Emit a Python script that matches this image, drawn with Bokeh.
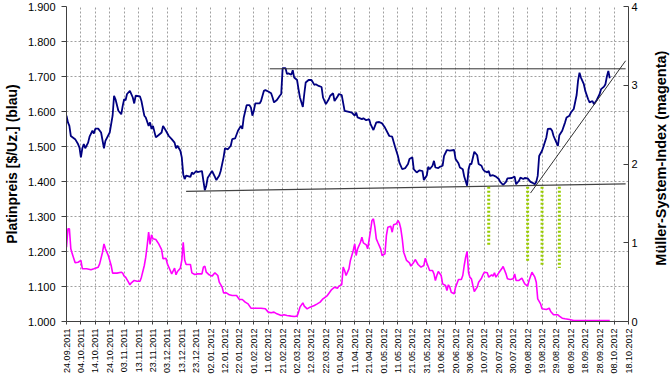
import math
import pandas as pd
from bokeh.plotting import figure
from bokeh.layouts import row
from bokeh.models import Range1d, LinearAxis, FixedTicker, DatetimeTickFormatter, ColumnDataSource, Label
from bokeh.embed import file_html
from bokeh.resources import INLINE

# ---------------- data ----------------
x_tick_labels = ["24.09.2011", "04.10.2011", "14.10.2011", "24.10.2011", "03.11.2011", "13.11.2011",
                 "23.11.2011", "03.12.2011", "13.12.2011", "23.12.2011", "02.01.2012", "12.01.2012",
                 "22.01.2012", "01.02.2012", "11.02.2012", "21.02.2012", "02.03.2012", "12.03.2012",
                 "22.03.2012", "01.04.2012", "11.04.2012", "21.04.2012", "01.05.2012", "11.05.2012",
                 "21.05.2012", "31.05.2012", "10.06.2012", "20.06.2012", "30.06.2012", "10.07.2012",
                 "20.07.2012", "30.07.2012", "09.08.2012", "19.08.2012", "29.08.2012", "08.09.2012",
                 "18.09.2012", "28.09.2012", "08.10.2012", "18.10.2012"]
price_ticks = [1000, 1100, 1200, 1300, 1400, 1500, 1600, 1700, 1800, 1900]
price_tick_labels = ["1.000", "1.100", "1.200", "1.300", "1.400", "1.500", "1.600", "1.700", "1.800", "1.900"]
index_ticks = [0, 1, 2, 3, 4]
left_title = "Platinpreis [$/Uz.] (blau)"
right_title = "Müller-System-Index (magenta)"

blue_dates = [
    "2011-09-24", "2011-09-25", "2011-09-26", "2011-09-27", "2011-09-30", "2011-10-02", "2011-10-03",
    "2011-10-04", "2011-10-05", "2011-10-06", "2011-10-07", "2011-10-09", "2011-10-10", "2011-10-12",
    "2011-10-13", "2011-10-14", "2011-10-16", "2011-10-18", "2011-10-20", "2011-10-21", "2011-10-24",
    "2011-10-26", "2011-10-27", "2011-10-28", "2011-10-30", "2011-11-01", "2011-11-02", "2011-11-03",
    "2011-11-04", "2011-11-05", "2011-11-07", "2011-11-09", "2011-11-10", "2011-11-11", "2011-11-14",
    "2011-11-15", "2011-11-17", "2011-11-18", "2011-11-20", "2011-11-21", "2011-11-22", "2011-11-23",
    "2011-11-25", "2011-11-27", "2011-11-29", "2011-11-30", "2011-12-02", "2011-12-04", "2011-12-06",
    "2011-12-08", "2011-12-09", "2011-12-10", "2011-12-12", "2011-12-13", "2011-12-14", "2011-12-15",
    "2011-12-16", "2011-12-19", "2011-12-20", "2011-12-21", "2011-12-23", "2011-12-24", "2011-12-27",
    "2011-12-28", "2011-12-29", "2011-12-30", "2011-12-31", "2012-01-01", "2012-01-03", "2012-01-05",
    "2012-01-06", "2012-01-08", "2012-01-09", "2012-01-11", "2012-01-12", "2012-01-14", "2012-01-16",
    "2012-01-17", "2012-01-19", "2012-01-21", "2012-01-23", "2012-01-24", "2012-01-25", "2012-01-27",
    "2012-01-29", "2012-01-30", "2012-01-31", "2012-02-01", "2012-02-02", "2012-02-05", "2012-02-06",
    "2012-02-08", "2012-02-09", "2012-02-11", "2012-02-13", "2012-02-14", "2012-02-15", "2012-02-17",
    "2012-02-19", "2012-02-20", "2012-02-21", "2012-02-23", "2012-02-24", "2012-02-25", "2012-02-27",
    "2012-02-28", "2012-02-29", "2012-03-02", "2012-03-03", "2012-03-04", "2012-03-06", "2012-03-07",
    "2012-03-08", "2012-03-10", "2012-03-12", "2012-03-14", "2012-03-15", "2012-03-17", "2012-03-19",
    "2012-03-20", "2012-03-22", "2012-03-24", "2012-03-25", "2012-03-27", "2012-03-28", "2012-03-30",
    "2012-03-31", "2012-04-02", "2012-04-04", "2012-04-07", "2012-04-09", "2012-04-11", "2012-04-12",
    "2012-04-13", "2012-04-16", "2012-04-17", "2012-04-19", "2012-04-21", "2012-04-22", "2012-04-24",
    "2012-04-26", "2012-04-28", "2012-04-30", "2012-05-02", "2012-05-05", "2012-05-07", "2012-05-09",
    "2012-05-11", "2012-05-12", "2012-05-14", "2012-05-16", "2012-05-18", "2012-05-19", "2012-05-21",
    "2012-05-22", "2012-05-24", "2012-05-26", "2012-05-28", "2012-05-29", "2012-05-31", "2012-06-01",
    "2012-06-02", "2012-06-04", "2012-06-05", "2012-06-06", "2012-06-08", "2012-06-09", "2012-06-11",
    "2012-06-12", "2012-06-14", "2012-06-16", "2012-06-19", "2012-06-20", "2012-06-22", "2012-06-23",
    "2012-06-25", "2012-06-26", "2012-06-28", "2012-06-29", "2012-06-30", "2012-07-01", "2012-07-03",
    "2012-07-05", "2012-07-06", "2012-07-08", "2012-07-09", "2012-07-10", "2012-07-12", "2012-07-13",
    "2012-07-14", "2012-07-16", "2012-07-18", "2012-07-20", "2012-07-21", "2012-07-23", "2012-07-25",
    "2012-07-26", "2012-07-29", "2012-07-31", "2012-08-01", "2012-08-03", "2012-08-04", "2012-08-06",
    "2012-08-07", "2012-08-09", "2012-08-11", "2012-08-13", "2012-08-14", "2012-08-15", "2012-08-16",
    "2012-08-17", "2012-08-19", "2012-08-20", "2012-08-22", "2012-08-23", "2012-08-25", "2012-08-26",
    "2012-08-27", "2012-08-29", "2012-08-30", "2012-08-31", "2012-09-02", "2012-09-04", "2012-09-05",
    "2012-09-07", "2012-09-08", "2012-09-10", "2012-09-12", "2012-09-13", "2012-09-14", "2012-09-15",
    "2012-09-17", "2012-09-18", "2012-09-20", "2012-09-21", "2012-09-23", "2012-09-24", "2012-09-26",
    "2012-09-28", "2012-09-29", "2012-10-01", "2012-10-02", "2012-10-03", "2012-10-04", "2012-10-05"]
blue_values = [
    1588, 1569, 1559, 1530, 1521, 1507, 1497,
    1469, 1495, 1507, 1495, 1511, 1528, 1545,
    1537, 1551, 1551, 1540, 1495, 1516, 1540,
    1588, 1645, 1635, 1602, 1592, 1616, 1635,
    1632, 1650, 1659, 1640, 1623, 1645, 1643,
    1630, 1588, 1583, 1559, 1569, 1550, 1559,
    1526, 1533, 1540, 1559, 1545, 1530, 1521,
    1511, 1495, 1502, 1488, 1469, 1421, 1407,
    1417, 1413, 1426, 1421, 1430, 1427, 1430,
    1402, 1375, 1388, 1411, 1417, 1430, 1413,
    1404, 1417, 1430, 1469, 1495, 1492, 1502,
    1521, 1523, 1545, 1559, 1550, 1583, 1618,
    1618, 1611, 1588, 1602, 1623, 1623, 1630,
    1659, 1661, 1657, 1652, 1640, 1626, 1633,
    1645, 1650, 1724, 1724, 1707, 1709, 1705,
    1718, 1697, 1690, 1664, 1640, 1613, 1650,
    1683, 1690, 1690, 1676, 1678, 1673, 1670,
    1640, 1621, 1635, 1645, 1652, 1630, 1642,
    1650, 1647, 1602, 1599, 1597, 1588, 1597,
    1583, 1578, 1581, 1575, 1578, 1564, 1547,
    1569, 1570, 1566, 1554, 1530, 1528, 1499,
    1473, 1454, 1435, 1438, 1450, 1464, 1469,
    1435, 1426, 1432, 1430, 1404, 1417, 1442,
    1435, 1445, 1459, 1440, 1438, 1442, 1445,
    1473, 1490, 1488, 1490, 1464, 1452, 1440,
    1435, 1414, 1388, 1435, 1450, 1450, 1485,
    1475, 1450, 1445, 1435, 1430, 1426, 1430,
    1416, 1418, 1414, 1407, 1399, 1390, 1399,
    1409, 1410, 1414, 1392, 1402, 1411, 1407,
    1410, 1409, 1399, 1395, 1392, 1399, 1416,
    1473, 1488, 1500, 1526, 1550, 1551, 1545,
    1530, 1511, 1502, 1532, 1545, 1569, 1583,
    1588, 1597, 1607, 1647, 1688, 1711, 1697,
    1678, 1659, 1635, 1626, 1630, 1621, 1633,
    1650, 1664, 1671, 1678, 1700, 1716, 1695]

magenta_dates = [
    "2011-09-24", "2011-09-25", "2011-09-26", "2011-09-27", "2011-09-28", "2011-09-30", "2011-10-02",
    "2011-10-04", "2011-10-05", "2011-10-08", "2011-10-11", "2011-10-13", "2011-10-16", "2011-10-17",
    "2011-10-19", "2011-10-20", "2011-10-21", "2011-10-23", "2011-10-25", "2011-10-26", "2011-10-29",
    "2011-11-01", "2011-11-02", "2011-11-03", "2011-11-04", "2011-11-06", "2011-11-07", "2011-11-08",
    "2011-11-10", "2011-11-12", "2011-11-14", "2011-11-15", "2011-11-17", "2011-11-18", "2011-11-19",
    "2011-11-20", "2011-11-21", "2011-11-22", "2011-11-23", "2011-11-25", "2011-11-27", "2011-11-29",
    "2011-11-30", "2011-12-02", "2011-12-03", "2011-12-05", "2011-12-06", "2011-12-08", "2011-12-09",
    "2011-12-10", "2011-12-12", "2011-12-13", "2011-12-14", "2011-12-15", "2011-12-16", "2011-12-19",
    "2011-12-20", "2011-12-22", "2011-12-24", "2011-12-27", "2011-12-28", "2011-12-29", "2011-12-30",
    "2012-01-01", "2012-01-03", "2012-01-05", "2012-01-07", "2012-01-08", "2012-01-10", "2012-01-11",
    "2012-01-13", "2012-01-15", "2012-01-17", "2012-01-20", "2012-01-22", "2012-01-24", "2012-01-26",
    "2012-01-28", "2012-01-30", "2012-02-03", "2012-02-06", "2012-02-09", "2012-02-11", "2012-02-13",
    "2012-02-15", "2012-02-17", "2012-02-20", "2012-02-22", "2012-02-24", "2012-02-27", "2012-02-29",
    "2012-03-02", "2012-03-03", "2012-03-04", "2012-03-06", "2012-03-07", "2012-03-09", "2012-03-11",
    "2012-03-14", "2012-03-16", "2012-03-18", "2012-03-20", "2012-03-23", "2012-03-25", "2012-03-26",
    "2012-03-28", "2012-03-30", "2012-03-31", "2012-04-02", "2012-04-03", "2012-04-04", "2012-04-05",
    "2012-04-07", "2012-04-08", "2012-04-10", "2012-04-11", "2012-04-12", "2012-04-13", "2012-04-15",
    "2012-04-16", "2012-04-17", "2012-04-19", "2012-04-20", "2012-04-22", "2012-04-23", "2012-04-24",
    "2012-04-25", "2012-04-26", "2012-04-27", "2012-04-29", "2012-04-30", "2012-05-02", "2012-05-03",
    "2012-05-04", "2012-05-06", "2012-05-07", "2012-05-08", "2012-05-10", "2012-05-11", "2012-05-12",
    "2012-05-13", "2012-05-14", "2012-05-15", "2012-05-17", "2012-05-19", "2012-05-20", "2012-05-22",
    "2012-05-23", "2012-05-25", "2012-05-27", "2012-05-29", "2012-05-30", "2012-05-31", "2012-06-02",
    "2012-06-04", "2012-06-05", "2012-06-06", "2012-06-07", "2012-06-08", "2012-06-10", "2012-06-11",
    "2012-06-13", "2012-06-14", "2012-06-15", "2012-06-16", "2012-06-17", "2012-06-19", "2012-06-20",
    "2012-06-22", "2012-06-24", "2012-06-25", "2012-06-26", "2012-06-27", "2012-06-28", "2012-06-29",
    "2012-06-30", "2012-07-01", "2012-07-02", "2012-07-03", "2012-07-05", "2012-07-06", "2012-07-08",
    "2012-07-09", "2012-07-10", "2012-07-12", "2012-07-13", "2012-07-15", "2012-07-16", "2012-07-17",
    "2012-07-18", "2012-07-20", "2012-07-22", "2012-07-23", "2012-07-25", "2012-07-26", "2012-07-28",
    "2012-07-30", "2012-07-31", "2012-08-01", "2012-08-03", "2012-08-05", "2012-08-07", "2012-08-09",
    "2012-08-10", "2012-08-12", "2012-08-14", "2012-08-15", "2012-08-16", "2012-08-18", "2012-08-19",
    "2012-08-22", "2012-08-24", "2012-08-25", "2012-08-27", "2012-08-30", "2012-08-31", "2012-09-02",
    "2012-09-04", "2012-09-07", "2012-09-10", "2012-10-05"]
magenta_values = [
    0.944, 1.177, 1.177, 0.923, 0.859, 0.745, 0.753,
    0.775, 0.669, 0.669, 0.656, 0.669, 0.690, 0.732,
    0.880, 0.986, 0.923, 0.838, 0.711, 0.614, 0.614,
    0.626, 0.614, 0.576, 0.563, 0.499, 0.466, 0.491,
    0.521, 0.512, 0.512, 0.563, 0.711, 0.817, 0.965,
    1.134, 0.980, 1.101, 1.050, 1.041, 0.986, 0.914,
    0.796, 0.804, 0.732, 0.648, 0.605, 0.677, 0.593,
    0.635, 0.677, 0.775, 1.007, 0.780, 0.724, 0.724,
    0.618, 0.597, 0.605, 0.605, 0.690, 0.703, 0.626,
    0.593, 0.576, 0.618, 0.584, 0.499, 0.436, 0.364,
    0.364, 0.339, 0.330, 0.330, 0.279, 0.279, 0.246,
    0.224, 0.170, 0.169, 0.169, 0.161, 0.119, 0.110,
    0.119, 0.097, 0.076, 0.085, 0.076, 0.068, 0.063,
    0.068, 0.119, 0.182, 0.237, 0.195, 0.161, 0.182,
    0.203, 0.224, 0.246, 0.288, 0.330, 0.381, 0.406,
    0.436, 0.423, 0.449, 0.466, 0.690, 0.648, 0.584,
    0.669, 0.775, 0.902, 0.986, 0.838, 0.923, 1.007,
    1.071, 0.999, 0.974, 0.923, 1.156, 1.283, 1.304,
    1.198, 1.050, 1.007, 0.923, 0.838, 0.859, 1.092,
    1.198, 1.211, 1.134, 1.228, 1.240, 1.283, 1.253,
    1.177, 1.050, 0.880, 0.775, 0.745, 0.703, 0.753,
    0.787, 0.724, 0.690, 0.711, 0.804, 0.745, 0.648,
    0.648, 0.605, 0.521, 0.584, 0.635, 0.584, 0.478,
    0.457, 0.394, 0.466, 0.436, 0.372, 0.351, 0.436,
    0.533, 0.533, 0.584, 0.711, 0.817, 0.889, 0.620,
    0.560, 0.542, 0.457, 0.381, 0.436, 0.499, 0.550,
    0.593, 0.626, 0.618, 0.563, 0.593, 0.576, 0.618,
    0.563, 0.618, 0.669, 0.698, 0.605, 0.542, 0.533,
    0.542, 0.605, 0.521, 0.521, 0.550, 0.478, 0.449,
    0.521, 0.626, 0.563, 0.499, 0.288, 0.224, 0.161,
    0.152, 0.169, 0.127, 0.085, 0.085, 0.068, 0.042,
    0.034, 0.025, 0.013, 0.013]

resistance_dates = ["2012-02-12", "2012-10-16"]
resistance_values = [1722, 1722]
support_dates = ["2011-12-16", "2012-10-16"]
support_values = [1372, 1393]
trend_dates = ["2012-08-11", "2012-10-16"]
trend_values = [1367, 1745]
signal_dates = ["2012-07-13", "2012-08-09", "2012-08-19", "2012-08-31"]
signal_top = [1385, 1385, 1385, 1385]
signal_bottom = [1215, 1171, 1160, 1153]

# ---------------- figure ----------------
FONT = "Liberation Sans"
AXIS_COL = "#404040"

x_ticks_dt = pd.to_datetime(x_tick_labels, format="%d.%m.%Y")
x_ticks_ms = [t.timestamp() * 1000.0 for t in x_ticks_dt]

p = figure(width=640, height=376, x_axis_type="datetime",
           x_range=Range1d(x_ticks_dt[0].to_pydatetime(), x_ticks_dt[-1].to_pydatetime()),
           y_range=Range1d(1000, 1900),
           output_backend="svg", toolbar_location=None,
           min_border_left=62, min_border_right=10, min_border_top=6, min_border_bottom=55)
p.outline_line_color = None
p.background_fill_color = "white"
p.border_fill_color = "white"
p.extra_y_ranges = {"idx": Range1d(0, 4)}

# grids
p.xgrid.grid_line_color = "#a0a0a0"
p.xgrid.grid_line_dash = "2 2"
p.ygrid.grid_line_color = "#a0a0a0"
p.ygrid.grid_line_dash = "2 2"

# x axis
xa = p.xaxis[0]
xa.ticker = FixedTicker(ticks=x_ticks_ms)
xa.formatter = DatetimeTickFormatter(days="%d.%m.%Y", months="%d.%m.%Y", years="%d.%m.%Y",
                                     hours="%d.%m.%Y", minutes="%d.%m.%Y")
xa.major_label_orientation = math.pi / 2
xa.major_label_text_font = FONT
xa.major_label_text_font_size = "9px"
xa.major_label_text_color = "black"
xa.major_label_standoff = 4
xa.major_tick_in = 0
xa.major_tick_out = 3
xa.minor_tick_line_color = None
xa.axis_line_color = AXIS_COL
xa.major_tick_line_color = AXIS_COL

# left axis
ya = p.yaxis[0]
ya.ticker = FixedTicker(ticks=price_ticks)
ya.major_label_overrides = {t: lab for t, lab in zip(price_ticks, price_tick_labels)}
ya.axis_label = left_title
ya.axis_label_text_font = FONT
ya.axis_label_text_font_style = "bold"
ya.axis_label_text_font_size = "14px"
ya.axis_label_text_color = "black"
ya.axis_label_standoff = 5
ya.major_label_text_font = FONT
ya.major_label_text_font_size = "11px"
ya.major_label_text_color = "black"
ya.major_label_standoff = 6
ya.major_tick_in = 0
ya.major_tick_out = 5
ya.minor_tick_line_color = None
ya.axis_line_color = AXIS_COL
ya.major_tick_line_color = AXIS_COL

# right axis
ra = LinearAxis(y_range_name="idx", ticker=FixedTicker(ticks=index_ticks))
ra.major_label_text_font = FONT
ra.major_label_text_font_size = "11px"
ra.major_label_text_color = "black"
ra.major_label_standoff = 3
ra.major_tick_in = 5
ra.major_tick_out = 0
ra.minor_tick_line_color = None
ra.axis_line_color = AXIS_COL
ra.major_tick_line_color = AXIS_COL
p.add_layout(ra, "right")

# ---------------- glyphs ----------------
blue_src = ColumnDataSource(dict(x=pd.to_datetime(blue_dates), y=blue_values))
mag_src = ColumnDataSource(dict(x=pd.to_datetime(magenta_dates), y=magenta_values))

p.line("x", "y", source=mag_src, y_range_name="idx", line_color="#FF00FF", line_width=1.6)
p.line("x", "y", source=blue_src, line_color="#000080", line_width=1.8)

p.line(pd.to_datetime(resistance_dates), resistance_values, line_color="#333333", line_width=1)
p.line(pd.to_datetime(support_dates), support_values, line_color="#444444", line_width=1.3)
p.line(pd.to_datetime(trend_dates), trend_values, line_color="#333333", line_width=1)

sig_x = pd.to_datetime(signal_dates)
p.segment(x0=sig_x, y0=signal_top, x1=sig_x, y1=signal_bottom,
          line_color="#99CC00", line_width=3, line_dash="2 2")

# ---------------- right title strip (reads bottom-to-top) ----------------
side = figure(width=30, height=376, output_backend="svg", toolbar_location=None,
              x_axis_location=None, y_axis_location=None,
              x_range=Range1d(0, 30), y_range=Range1d(0, 376),
              min_border=0)
side.outline_line_color = None
side.grid.visible = False
side.background_fill_color = "white"
side.border_fill_color = "white"
side.add_layout(Label(x=20, y=195, text=right_title, angle=math.pi / 2,
                      text_align="center", text_baseline="middle", text_font=FONT,
                      text_font_style="bold", text_font_size="14.5px", text_color="black"))

layout = row(p, side, spacing=0)
open("out.html", "w").write(file_html(layout, INLINE))
